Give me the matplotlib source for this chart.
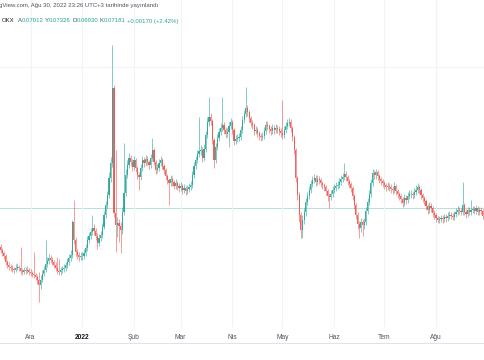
import numpy as np
import pandas as pd
import matplotlib
matplotlib.use("Agg")
import matplotlib.pyplot as plt
import matplotlib.dates as mdates
from matplotlib.lines import Line2D

# gunluk mumlar, fiyatlar 0.0001 biriminde (OKX, 13 Kas 2021 - 30 Agu 2022)
START = "2021-11-13"
FIRST_OPEN = 640

CLOSES = [
    634, 628, 622, 610, 604, 600, 598, 596, 594, 598,
    600, 598, 592, 590, 594, 592, 594, 590, 588, 586,
    584, 580, 574, 564, 574, 586, 594, 606, 612, 618,
    614, 610, 604, 598, 592, 590, 594, 596, 598, 604,
    610, 618, 624, 690, 654, 630, 624, 620, 622, 622,
    628, 638, 654, 662, 670, 678, 672, 662, 648, 658,
    664, 680, 704, 724, 744, 778, 808, 958, 708, 684,
    688, 682, 674, 710, 748, 784, 804, 818, 810, 800,
    814, 798, 784, 780, 798, 814, 808, 816, 810, 804,
    818, 834, 810, 794, 798, 808, 814, 802, 794, 782,
    774, 768, 776, 770, 762, 768, 762, 758, 762, 754,
    758, 752, 756, 760, 764, 784, 802, 814, 826, 832,
    834, 818, 836, 864, 890, 900, 892, 854, 814, 840,
    858, 870, 878, 884, 874, 866, 870, 882, 890, 874,
    852, 856, 858, 860, 874, 894, 906, 918, 910, 898,
    888, 884, 872, 874, 868, 862, 860, 862, 872, 884,
    882, 876, 872, 878, 874, 878, 876, 872, 868, 864,
    874, 882, 888, 890, 878, 860, 834, 778, 744, 704,
    674, 694, 710, 730, 742, 754, 766, 774, 778, 770,
    776, 774, 768, 764, 760, 752, 742, 740, 746, 754,
    758, 762, 764, 770, 776, 780, 786, 780, 772, 766,
    758, 742, 724, 704, 686, 678, 690, 684, 690, 712,
    730, 746, 768, 788, 784, 790, 782, 776, 772, 768,
    764, 760, 762, 760, 756, 754, 762, 752, 746, 742,
    736, 728, 738, 734, 742, 746, 746, 744, 750, 754,
    760, 754, 744, 738, 732, 722, 714, 722, 718, 708,
    704, 698, 694, 696, 698, 696, 700, 698, 702, 704,
    702, 700, 706, 710, 714, 712, 710, 724, 710, 706,
    714, 710, 714, 716, 712, 718, 710, 714, 712, 701.2,
    718.1,
]

HIGHS = [
    646, 638, 632, 626, 614, 610, 606, 604, 600, 606,
    608, 604, 640, 598, 600, 600, 602, 598, 596, 592,
    630, 588, 584, 590, 584, 594, 602, 654, 620, 626,
    624, 620, 614, 610, 620, 616, 600, 602, 606, 610,
    618, 626, 634, 694, 734, 660, 636, 630, 630, 630,
    636, 646, 662, 670, 678, 704, 686, 678, 668, 666,
    672, 688, 712, 732, 752, 790, 820, 1044, 964, 834,
    700, 696, 690, 720, 848, 796, 814, 828, 824, 816,
    822, 818, 802, 790, 806, 822, 820, 824, 822, 814,
    826, 858, 838, 814, 806, 816, 822, 818, 806, 798,
    786, 778, 784, 782, 774, 776, 772, 768, 770, 766,
    766, 762, 764, 768, 772, 792, 810, 822, 834, 900,
    844, 840, 846, 872, 900, 940, 908, 896, 858, 848,
    866, 878, 888, 940, 890, 880, 878, 890, 898, 894,
    878, 864, 866, 868, 882, 902, 914, 960, 924, 914,
    902, 894, 888, 882, 880, 872, 868, 870, 880, 892,
    892, 886, 882, 886, 884, 886, 884, 882, 878, 934,
    882, 890, 896, 898, 896, 882, 864, 838, 782, 750,
    710, 704, 718, 738, 750, 762, 774, 782, 786, 784,
    784, 782, 778, 772, 768, 764, 756, 748, 754, 762,
    766, 770, 772, 778, 784, 788, 808, 792, 784, 776,
    770, 762, 746, 728, 710, 692, 698, 696, 698, 720,
    738, 754, 776, 796, 794, 796, 794, 786, 780, 776,
    772, 768, 770, 768, 766, 762, 770, 766, 756, 750,
    746, 740, 746, 744, 750, 754, 754, 752, 758, 764,
    768, 764, 758, 748, 742, 736, 726, 730, 728, 722,
    714, 708, 702, 702, 704, 704, 706, 706, 710, 712,
    710, 708, 712, 718, 722, 720, 718, 770, 728, 716,
    720, 720, 734, 722, 722, 724, 722, 720, 720, 716,
    732.6,
]

LOWS = [
    628, 622, 616, 604, 598, 594, 592, 590, 588, 590,
    594, 592, 586, 584, 586, 586, 588, 584, 582, 580,
    578, 574, 566, 530, 556, 570, 582, 590, 600, 606,
    608, 604, 598, 592, 586, 584, 584, 588, 590, 592,
    598, 604, 612, 618, 646, 622, 616, 612, 614, 614,
    616, 622, 632, 648, 656, 664, 664, 654, 636, 642,
    652, 658, 676, 698, 718, 738, 770, 800, 700, 630,
    660, 650, 628, 666, 704, 742, 778, 798, 802, 792,
    794, 790, 776, 754, 774, 792, 800, 802, 804, 796,
    798, 812, 804, 786, 788, 792, 802, 796, 786, 774,
    766, 724, 762, 762, 756, 756, 754, 750, 752, 746,
    748, 744, 746, 750, 754, 758, 778, 796, 808, 820,
    824, 810, 812, 830, 858, 882, 884, 846, 798, 808,
    834, 852, 864, 872, 866, 858, 860, 840, 876, 866,
    844, 846, 850, 852, 854, 868, 888, 900, 902, 890,
    880, 876, 864, 866, 860, 854, 852, 854, 856, 866,
    874, 868, 864, 866, 866, 868, 868, 864, 860, 856,
    858, 868, 876, 882, 870, 852, 826, 770, 734, 690,
    658, 658, 686, 702, 724, 736, 748, 760, 768, 762,
    764, 766, 760, 756, 752, 744, 732, 718, 734, 740,
    748, 752, 756, 758, 764, 770, 774, 772, 764, 758,
    750, 734, 716, 696, 676, 658, 670, 662, 676, 684,
    706, 724, 740, 762, 776, 776, 774, 768, 764, 760,
    756, 752, 754, 752, 748, 746, 748, 744, 738, 734,
    728, 720, 722, 726, 728, 736, 738, 736, 738, 744,
    748, 746, 736, 730, 724, 714, 706, 708, 710, 700,
    696, 690, 688, 688, 690, 688, 690, 690, 692, 696,
    696, 694, 694, 700, 704, 706, 704, 704, 704, 698,
    700, 704, 704, 708, 706, 706, 704, 704, 706, 696,
    693,
]

MONTHS = ["Ara", "2022", "Şub", "Mar", "Nis", "May", "Haz", "Tem", "Ağu"]
MONTH_STARTS = ["2021-12-01", "2022-01-01", "2022-02-01", "2022-03-01", "2022-04-01",
                "2022-05-01", "2022-06-01", "2022-07-01", "2022-08-01"]

UP = "#26a69a"
DOWN = "#ef5350"
FONT = ["Liberation Sans", "DejaVu Sans"]

close = np.array(CLOSES) * 1e-4
high = np.array(HIGHS) * 1e-4
low = np.array(LOWS) * 1e-4
open_ = np.concatenate([[FIRST_OPEN * 1e-4], close[:-1]])
dates = mdates.date2num(pd.date_range(START, periods=len(close), freq="D"))

plt.rcParams["font.family"] = FONT

fig = plt.figure(figsize=(4.85, 3.6), dpi=100)
ax = fig.add_axes([0, 1 - 327 / 360, 1, 327 / 360])

colors = np.where(close >= open_, UP, DOWN)
ax.vlines(dates, low, high, colors=colors, lw=0.5, alpha=0.8, zorder=2)
body = np.maximum(np.abs(close - open_), 0.00006)
ax.bar(dates, body, bottom=np.minimum(open_, close), width=0.7,
       color=colors, linewidth=0, alpha=0.9, zorder=3)

ax.axhline(close[-1], color=UP, lw=0.7, alpha=0.35, zorder=1)

ax.set_xlim(dates[0] - 0.3, dates[-1] + 0.4)
ax.set_ylim(0.0480, 0.1134)

ticks = mdates.date2num(pd.to_datetime(MONTH_STARTS))
ax.set_xticks(ticks)
ax.set_xticklabels(MONTHS)
for lab in ax.get_xticklabels():
    lab.set_fontsize(4.8)
    lab.set_color("#50535e")
    if lab.get_text() == "2022":
        lab.set_fontweight("bold")
        lab.set_color("#131722")
ax.tick_params(axis="x", length=0, pad=5)
ax.set_yticks([0.1])
ax.tick_params(axis="y", length=0, labelleft=False)
ax.grid(True, color="#f0f3fa", lw=0.8, zorder=0)
for s in ax.spines.values():
    s.set_visible(False)

fig.add_artist(Line2D([0, 1], [1 - 343 / 360] * 2, color="#e0e3eb", lw=0.8))

# ust bilgi satirlari
fig.text(-0.002, 1 - 6 / 360, "gView.com, Ağu 30, 2022 23:26 UTC+3 tarihinde yayınlandı",
         fontsize=4.3, color="#50535e", va="center", ha="left")

# (metin, renk, onceki parcadan bosluk [pt])
parts = [("A", "#50535e", 2.4), ("0.07012", UP, 0), ("Y", "#50535e", 1.0),
         ("0.07326", UP, 0), ("D", "#50535e", 1.0), ("0.06930", UP, 0),
         ("K", "#50535e", 1.0), ("0.07181", UP, 0), ("+0.00170 (+2.42%)", UP, 1.0)]
prev = fig.text(0.004, 1 - 21 / 360, "OKX", fontsize=4.3, color="#131722",
                va="center", ha="left")
for txt, col, gap in parts:
    prev = ax.annotate(txt, xy=(1, 0.5), xycoords=prev, xytext=(gap, 0),
                       textcoords="offset points", va="center", ha="left",
                       fontsize=4.3, color=col)

fig.savefig("out.png", dpi=100)
